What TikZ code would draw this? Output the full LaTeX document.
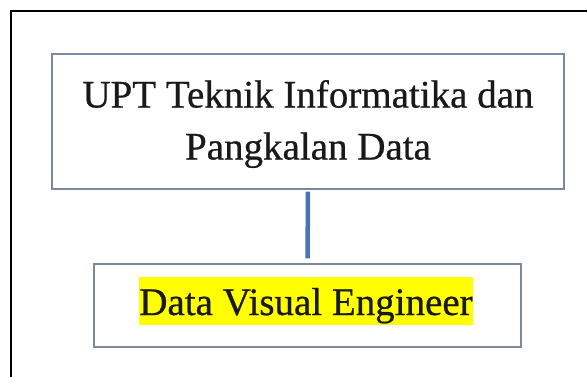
\documentclass[tikz,border=0pt]{standalone}
\usepackage{fontspec}
\setmainfont{Liberation Serif}[FakeBold=0.6]
\definecolor{boxline}{HTML}{7A88A0}
\definecolor{linkblue}{HTML}{4A72B5}
\definecolor{marker}{HTML}{FFFF00}
\begin{document}
\begin{tikzpicture}[x=1pt,y=-1pt,
  unitbox/.style={draw=boxline,line width=1.2pt,inner sep=0pt},
  unittext/.style={align=center,inner sep=0pt,text=black!90,font=\fontsize{39}{52}\selectfont},
  connector/.style={draw=linkblue,line width=4.5pt}]
\useasboundingbox (0,0) rectangle (587,376);
\clip (0,0) rectangle (587,376);
% outer frame
\draw[line width=2pt] (11,11) rectangle (620,420);
% boxes
\node[unitbox,minimum width=512pt,minimum height=135pt] (upt) at (308,121.5) {};
\node[unittext] (upttext) at (308,124) {UPT Teknik Informatika dan\\Pangkalan Data};
\node[unitbox,minimum width=427pt,minimum height=83pt] (dve) at (307.5,305.5) {};
\node[unittext,fill=marker,text height=37pt,text depth=9pt,inner ysep=1pt] (dvetext) at (306,301) {Data Visual Engineer};
% link
\draw[connector,shorten <=2pt,shorten >=5pt] (upt.south) -- (dve.north);
\end{tikzpicture}
\end{document}
